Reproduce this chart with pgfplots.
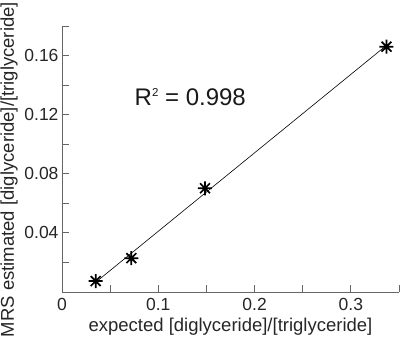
\documentclass[border=0pt]{standalone}
\usepackage{pgfplots}
\pgfplotsset{compat=1.18}
\usepackage{fontspec}
\setmainfont{Liberation Sans}
\pgfdeclareplotmark{star8}{%
  \pgfpathmoveto{\pgfpoint{-\pgfplotmarksize}{0pt}}\pgfpathlineto{\pgfpoint{\pgfplotmarksize}{0pt}}%
  \pgfpathmoveto{\pgfpoint{0pt}{-\pgfplotmarksize}}\pgfpathlineto{\pgfpoint{0pt}{\pgfplotmarksize}}%
  \pgfpathmoveto{\pgfpoint{-0.707\pgfplotmarksize}{-0.707\pgfplotmarksize}}\pgfpathlineto{\pgfpoint{0.707\pgfplotmarksize}{0.707\pgfplotmarksize}}%
  \pgfpathmoveto{\pgfpoint{-0.707\pgfplotmarksize}{0.707\pgfplotmarksize}}\pgfpathlineto{\pgfpoint{0.707\pgfplotmarksize}{-0.707\pgfplotmarksize}}%
  \pgfusepathqstroke}
\begin{document}
\begin{tikzpicture}
\begin{axis}[
  scale only axis, width=337pt, height=266pt,
  xmin=0, xmax=0.35, ymin=0, ymax=0.18,
  axis x line=bottom, axis y line=left,
  axis line style={-, black!60, line width=0.8pt},
  tick style={black!60, line width=0.8pt},
  tick align=inside, major tick length=7pt,
  xtick={0,0.05,0.1,0.15,0.2,0.25,0.3,0.35},
  xticklabels={0,,0.1,,0.2,,0.3,},
  ytick={0,0.02,0.04,0.06,0.08,0.1,0.12,0.14,0.16,0.18},
  yticklabels={,,0.04,,0.08,,0.12,,0.16,},
  ticklabel style={font=\fontsize{17.5}{19}\selectfont, text=black!85},
  xticklabel style={yshift=-3pt},
  xlabel={expected [diglyceride]/[triglyceride]},
  ylabel={MRS estimated [diglyceride]/[triglyceride]},
  label style={font=\fontsize{18.5}{20}\selectfont, text=black!85},
  xlabel style={at={(axis description cs:0.5,-0.132)}, anchor=center},
  ylabel style={at={(axis description cs:-0.157,0.46)}, anchor=center},
  clip=false,
]
\addplot[black, line width=0.6pt] coordinates {(0.035,0.0066) (0.337,0.1669)};
\addplot[only marks, mark=star8, mark size=7pt, mark options={line width=1.7pt, black}]
  coordinates {(0.035,0.0074) (0.072,0.0229) (0.1485,0.0702) (0.337,0.1660)};
\node[anchor=west, inner sep=0pt, font=\fontsize{24}{26}\selectfont, text=black!90] at (axis cs:0.0753,0.1316) {R\raisebox{9pt}{\fontsize{11.5}{12}\selectfont 2} = 0.998};
\end{axis}
\pgfresetboundingbox
\path ([xshift=-62pt,yshift=-49pt]current axis.south west) rectangle ([xshift=1pt,yshift=26pt]current axis.north east);
\end{tikzpicture}
\end{document}
